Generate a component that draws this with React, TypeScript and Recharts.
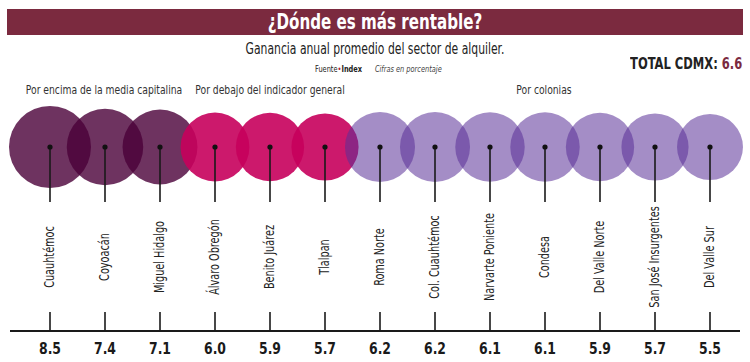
import React from 'react';
import { ScatterChart, Scatter, XAxis, YAxis, ZAxis } from 'recharts';

const names = [
  'Cuauhtémoc', 'Coyoacán', 'Miguel Hidalgo', 'Álvaro Obregón', 'Benito Juárez', 'Tlalpan',
  'Roma Norte', 'Col. Cuauhtémoc', 'Narvarte Poniente', 'Condesa', 'Del Valle Norte',
  'San José Insurgentes', 'Del Valle Sur',
];
const values = [8.5, 7.4, 7.1, 6.0, 5.9, 5.7, 6.2, 6.2, 6.1, 6.1, 5.9, 5.7, 5.5];
const groups = ['encima', 'encima', 'encima', 'debajo', 'debajo', 'debajo',
  'colonias', 'colonias', 'colonias', 'colonias', 'colonias', 'colonias', 'colonias'];
const groupLabels = ['Por encima de la media capitalina', 'Por debajo del indicador general', 'Por colonias'];
const totalCdmx = 6.6;

const FONT = '"Liberation Sans Narrow", "DejaVu Sans Condensed", "Open Sans", sans-serif';
const SQ = 0.8; // horizontal squeeze, to get a condensed look

const fills: Record<string, { c: string; o: number }> = {
  encima: { c: '#4a0038', o: 0.8 },
  debajo: { c: '#c6005c', o: 0.9 },
  colonias: { c: '#593098', o: 0.55 },
};

const rows = names.map((name, i) => ({ name, value: values[i], group: groups[i], row: 0 }));

const Bubble = (p: any) => {
  const f = fills[p.payload.group];
  return <circle cx={p.cx} cy={p.cy} r={p.width / 2} fill={f.c} fillOpacity={f.o} />;
};

const Pin = (p: any) => {
  const ly = p.cy + 110;
  return (
    <g>
      <line x1={p.cx} x2={p.cx} y1={p.cy} y2={p.cy + 55} stroke="#1a1a1a" strokeWidth={1.6} />
      <circle cx={p.cx} cy={p.cy} r={2.6} fill="#111" />
      <text x={0} y={0} transform={`translate(${p.cx} ${ly}) rotate(-90) scale(${SQ} 1)`} textAnchor="middle"
        dominantBaseline="central" fontSize={13.5} fill="#222" fontFamily={FONT}>
        {p.payload.name}
      </text>
    </g>
  );
};

const ValueTick = (p: any) => {
  const v = values[p.index];
  return (
    <g>
      <line x1={p.x} x2={p.x} y1={p.y - 19} y2={p.y} stroke="#1a1a1a" strokeWidth={1.6} />
      <text x={0} y={0} transform={`translate(${p.x} ${p.y + 23}) scale(0.92 1)`} textAnchor="middle"
        fontSize={15} fontWeight={700} fill="#1a1a1a" fontFamily={FONT}>
        {v.toFixed(1)}
      </text>
    </g>
  );
};

const groupCenters = [104, 270, 544];

const squeeze = (origin: string): React.CSSProperties => ({
  transform: `scaleX(${SQ})`, transformOrigin: origin,
});

export default function App() {
  return (
    <div style={{ position: 'absolute', left: 0, top: 0, width: 750, height: 362, background: '#fff', fontFamily: FONT, color: '#222' }}>
      <div style={{ position: 'absolute', left: 7, top: 9, width: 736, height: 26, background: '#7b2a3f' }} />
      <div style={{
        position: 'absolute', left: 7, top: 9, width: 736, height: 26,
        color: '#fff', fontWeight: 700, fontSize: 21, lineHeight: '26px', textAlign: 'center', ...squeeze('center'),
      }}>
        ¿Dónde es más rentable?
      </div>
      <div style={{ position: 'absolute', left: 0, width: 750, top: 40, textAlign: 'center', fontSize: 15, lineHeight: '18px', ...squeeze('center') }}>
        Ganancia anual promedio del sector de alquiler.
      </div>
      <div style={{ position: 'absolute', left: 315, top: 63, fontSize: 9.2, lineHeight: '12px', whiteSpace: 'nowrap', ...squeeze('left') }}>
        Fuente<span style={{ color: '#b0203a' }}>•</span><b>Index</b>
        <i style={{ marginLeft: 16, color: '#444' }}>Cifras en porcentaje</i>
      </div>
      <div style={{ position: 'absolute', right: 8, top: 55, fontSize: 16, lineHeight: '18px', fontWeight: 700, whiteSpace: 'nowrap', ...squeeze('right') }}>
        TOTAL CDMX: <span style={{ color: '#7b2a3f' }}>{totalCdmx.toFixed(1)}</span>
      </div>
      {groupLabels.map((g, i) => (
        <div key={g} style={{
          position: 'absolute', left: groupCenters[i] - 125, width: 250, top: 82, textAlign: 'center',
          fontSize: 12.8, lineHeight: '16px', color: '#333', whiteSpace: 'nowrap', ...squeeze('center'),
        }}>{g}</div>
      ))}
      <div style={{ position: 'absolute', left: 10, top: 330, width: 730, height: 2, background: '#1a1a1a' }} />
      <div style={{ position: 'absolute', left: 0, top: 0 }}>
        <ScatterChart width={750} height={362} margin={{ top: 55, right: 12.5, left: 22.5, bottom: 0 }}>
          <XAxis type="category" dataKey="name" allowDuplicatedCategory={false} height={31}
            axisLine={false} tickLine={false} tickSize={0} tickMargin={0} interval={0} tick={<ValueTick />} />
          <YAxis type="number" dataKey="row" domain={[-2, 1]} hide />
          <ZAxis type="number" dataKey="value" domain={[0, 'dataMax']} range={[0, Math.PI * 41 * 41]} />
          <Scatter data={rows} shape={<Bubble />} isAnimationActive={false} />
          <Scatter data={rows} shape={<Pin />} isAnimationActive={false} />
        </ScatterChart>
      </div>
    </div>
  );
}
